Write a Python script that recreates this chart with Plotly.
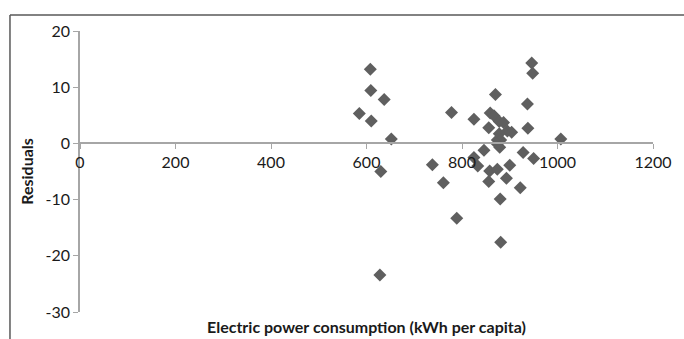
import plotly.graph_objects as go

# Electric power consumption (kWh per capita) and residuals
consumption = [608, 609, 637, 585, 610, 652, 630, 628, 778, 738, 761, 789,
               825, 825, 833, 846, 856, 859, 867, 870, 858, 856, 874, 878,
               887, 895, 904, 878, 874, 881, 874, 879, 900, 893, 922, 880,
               881, 928, 950, 938, 937, 946, 948, 1007]
residuals = [13.2, 9.4, 7.8, 5.3, 4.0, 0.8, -5.0, -23.4, 5.5, -3.8, -7.0, -13.3,
             4.3, -2.5, -4.0, -1.2, 2.8, 5.4, 4.9, 8.7, -4.9, -6.8, -4.6, 3.9,
             3.7, 2.2, 2.0, 1.7, 0.6, 0.6, -0.1, -0.7, -3.9, -6.2, -7.9, -9.9,
             -17.6, -1.6, -2.7, 2.7, 7.0, 14.3, 12.5, 0.8]

x_ticks = [0, 200, 400, 600, 800, 1000, 1200]
y_ticks = [-30, -20, -10, 0, 10, 20]

FONT = "Lato"
W, H = 684, 339
L, R, T, B = 80, 23, 31, 27
pw, ph = W - L - R, H - T - B

def px_x(p):
    return (p - L) / pw

def px_y(p):
    return (H - B - p) / ph

fig = go.Figure()
fig.add_trace(go.Scatter(
    x=consumption, y=residuals, mode="markers",
    marker=dict(symbol="diamond", size=10, color="#5f5f5f", line=dict(width=0)),
    cliponaxis=False, showlegend=False,
))

fig.update_layout(
    width=W, height=H,
    margin=dict(l=L, r=R, t=T, b=B),
    paper_bgcolor="white", plot_bgcolor="white",
    font=dict(family=FONT, size=16, color="#1a1a1a"),
    xaxis=dict(
        range=[0, 1200], tickvals=x_ticks, ticktext=[str(v) for v in x_ticks],
        showgrid=False, zeroline=False, showline=True, linecolor="#a6a6a6", linewidth=1.5,
        ticks="outside", ticklen=5, tickcolor="#a6a6a6", tickwidth=1,
        anchor="free", position=0.6, fixedrange=True,
    ),
    yaxis=dict(
        range=[-30, 20], tickvals=y_ticks, ticktext=[str(v) for v in y_ticks],
        showgrid=False, zeroline=False, showline=True, linecolor="#a6a6a6", linewidth=1.5,
        ticks="outside", ticklen=5, tickcolor="#a6a6a6", tickwidth=1,
        title=dict(text="<b>Residuals</b>", font=dict(size=16, family=FONT), standoff=8),
        fixedrange=True,
    ),
)

# x-axis title at the bottom of the chart
fig.add_annotation(
    text="<b>Electric power consumption (kWh per capita)</b>",
    xref="paper", yref="paper", x=px_x(370), y=px_y(326),
    xanchor="center", yanchor="middle", showarrow=False,
    font=dict(size=16, family=FONT, color="#1a1a1a"),
)

# outer frame (left and top borders of the embedded chart box)
fig.add_shape(type="line", xref="paper", yref="paper",
              x0=px_x(9), x1=px_x(9), y0=px_y(15), y1=px_y(345),
              line=dict(color="#595959", width=1.5))
fig.add_shape(type="line", xref="paper", yref="paper",
              x0=px_x(9), x1=px_x(700), y0=px_y(15), y1=px_y(15),
              line=dict(color="#595959", width=1.5))

# caption above, cut off by the top edge
fig.add_annotation(
    text="<span style='color:#c55a11'>Figure 5.</span> Residual plot (electric power consumption) of the sample (per capita, in kWh per capita)",
    xref="paper", yref="paper", x=px_x(20), y=px_y(2),
    xanchor="left", yanchor="bottom", showarrow=False,
    font=dict(size=16, family="Liberation Serif", color="#222"),
)

fig.write_html("out.html")
